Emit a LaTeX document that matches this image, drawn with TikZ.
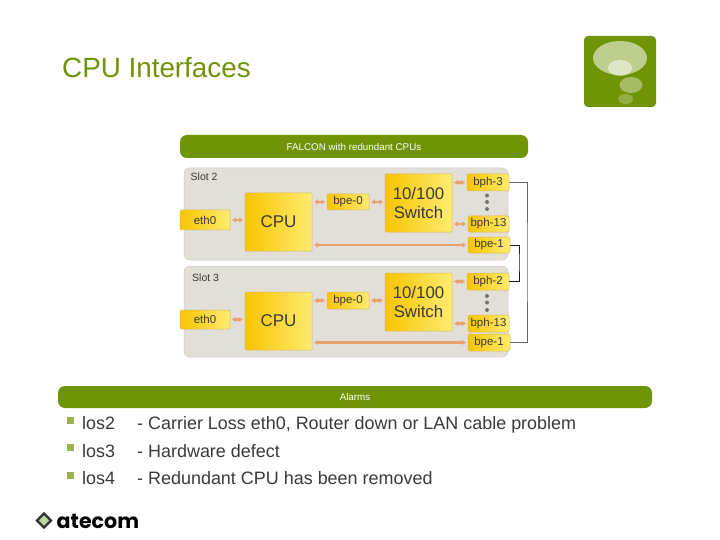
\documentclass[tikz,border=0pt]{standalone}
\usepackage{fontspec}
\setmainfont{Liberation Sans}
\newfontfamily\logofont{Poppins}
\usetikzlibrary{arrows.meta,shapes.geometric,calc}
\definecolor{oliv}{HTML}{6F9405}
\definecolor{slotgrey}{HTML}{E2DFD9}
\definecolor{slotedge}{HTML}{CFCBC4}
\definecolor{ylwdark}{HTML}{F8C400}
\definecolor{ylwlight}{HTML}{FFEC70}
\definecolor{ylwedge}{HTML}{D8B860}
\definecolor{linkc}{HTML}{E9A26E}
\definecolor{txt}{HTML}{3A3A38}
\tikzset{
  bar/.style={fill=oliv,rounded corners=7pt,inner sep=0pt,text=white,font=\fontsize{9.8}{11}\selectfont},
  slot/.style={fill=slotgrey,draw=slotedge,line width=.5pt,rounded corners=6pt,inner sep=0pt},
  chip/.style={left color=ylwdark,right color=ylwlight,draw=ylwedge,line width=.5pt,inner sep=0pt,text=txt},
  port/.style={chip,rounded corners=2pt,font=\fontsize{11.5}{13}\selectfont},
  bigchip/.style={chip,rounded corners=1pt,align=center},
  link/.style={draw=linkc,line width=2.2pt,{Latex[length=4pt,width=5.5pt]}-{Latex[length=4pt,width=5.5pt]}},
  wireout/.style={draw=black!60,line width=.8pt},
  wirein/.style={draw=black!90,line width=.9pt},
  vdot/.style={circle,fill=black!55,minimum size=4pt,inner sep=0pt},
  bodytext/.style={anchor=base west,inner sep=0pt,text=txt,font=\fontsize{17.95}{20}\selectfont},
  bullet/.style={fill=oliv!70,minimum size=7pt,inner sep=0pt},
}
\begin{document}
\begin{tikzpicture}[x=1pt,y=-1pt]
\useasboundingbox (0,0) rectangle (720,540);
\fill[white] (0,0) rectangle (720,540);

% title and corner tile
\node[anchor=base west,inner sep=0pt,text=oliv,font=\fontsize{27.8}{30}\selectfont] (title) at (62,78) {CPU Interfaces};
\node[fill=oliv,rounded corners=4pt,minimum width=72pt,minimum height=71pt,inner sep=0pt] (tile) at (620,71.5) {};
\fill[white,opacity=.55] (620,58) ellipse (27pt and 17pt);
\fill[white,opacity=.5] (620,68) ellipse (12pt and 8pt);
\fill[white,opacity=.38] (631,85) ellipse (11.5pt and 8pt);
\fill[white,opacity=.25] (625.7,99) ellipse (7.5pt and 5pt);

% header bars
\node[bar,minimum width=348pt,minimum height=23pt] (hdr) at (354,146.5) {FALCON with redundant CPUs};
\node[bar,minimum width=594pt,minimum height=22pt] (alarms) at (355,397) {Alarms};

% slots
\node[slot,minimum width=324pt,minimum height=92pt] (slotA) at (346,214) {};
\node[slot,minimum width=324pt,minimum height=91pt] (slotB) at (346,311.5) {};
\node[anchor=base west,inner sep=0pt,text=txt,font=\fontsize{10.5}{12}\selectfont] (slotAl) at (190.5,181) {Slot 2};
\node[anchor=base west,inner sep=0pt,text=txt,font=\fontsize{10.5}{12}\selectfont] (slotBl) at (192,281) {Slot 3};

% slot 2
\node[port,minimum width=50pt,minimum height=20pt] (ethA) at (205,220) {eth0};
\node[bigchip,minimum width=67pt,minimum height=58pt,font=\fontsize{17}{20}\selectfont] (cpuA) at (278.5,222) {CPU};
\node[port,minimum width=42pt,minimum height=16pt] (bpe0A) at (348,202) {bpe-0};
\node[bigchip,minimum width=67pt,minimum height=58pt,font=\fontsize{16.8}{19}\selectfont] (swA) at (418.5,203) {10/100\\Switch};
\node[port,minimum width=42pt,minimum height=17pt] (bph3A) at (488,182.5) {bph-3};
\node[port,minimum width=41pt,minimum height=16pt] (bph13A) at (488.5,224) {bph-13};
\node[port,minimum width=42pt,minimum height=16pt] (bpe1A) at (489,245) {bpe-1};
\node[vdot] (d1A) at (487,195.5) {};
\node[vdot] (d2A) at (487,202) {};
\node[vdot] (d3A) at (487,209) {};

% slot 3
\node[port,minimum width=50pt,minimum height=19pt] (ethB) at (205,319.5) {eth0};
\node[bigchip,minimum width=67pt,minimum height=58pt,font=\fontsize{17}{20}\selectfont] (cpuB) at (278.5,321) {CPU};
\node[port,minimum width=42pt,minimum height=17pt] (bpe0B) at (348,300.5) {bpe-0};
\node[bigchip,minimum width=67pt,minimum height=58pt,font=\fontsize{16.8}{19}\selectfont] (swB) at (418.5,302) {10/100\\Switch};
\node[port,minimum width=42pt,minimum height=17pt] (bph2B) at (488,281.5) {bph-2};
\node[port,minimum width=41pt,minimum height=17pt] (bph13B) at (488.5,323.5) {bph-13};
\node[port,minimum width=42pt,minimum height=17pt] (bpe1B) at (489,342.5) {bpe-1};
\node[vdot] (d1B) at (487,296) {};
\node[vdot] (d2B) at (487,302.5) {};
\node[vdot] (d3B) at (487,310) {};

% links inside the slots
\begin{scope}[shorten <=1.5pt,shorten >=1.5pt]
\draw[link] (ethA) -- (ethA -| cpuA.west);
\draw[link] (bpe0A.west -| cpuA.east) -- (bpe0A.west);
\draw[link] (bpe0A) -- (bpe0A -| swA.west);
\draw[link] (bph3A.west -| swA.east) -- (bph3A.west);
\draw[link] (bph13A.west -| swA.east) -- (bph13A.west);
\draw[link] (bpe1A.west -| cpuA.east) -- (bpe1A.west);
\draw[link] (ethB) -- (ethB -| cpuB.west);
\draw[link] (bpe0B.west -| cpuB.east) -- (bpe0B.west);
\draw[link] (bpe0B) -- (bpe0B -| swB.west);
\draw[link] (bph2B.west -| swB.east) -- (bph2B.west);
\draw[link] (bph13B.west -| swB.east) -- (bph13B.west);
\draw[link] (bpe1B.west -| cpuB.east) -- (bpe1B.west);
\end{scope}

% cross connections between the slots
\coordinate (railO) at (527,262);
\coordinate (railI) at (519,262);
\draw[wireout] (bph3A.east) -| (railO) |- (bpe1B.east);
\draw[wirein] (bpe1A.east) -| (railI) |- (bph2B.east);

% alarm list
\node[bullet] (b1) at (70,420) {};
\node[bullet] (b2) at (70,447.5) {};
\node[bullet] (b3) at (70,475) {};
\node[bodytext] (l1) at (82,429) {los2};
\node[bodytext] (l2) at (82,457) {los3};
\node[bodytext] (l3) at (82,484) {los4};
\node[bodytext] (t1) at (137,429) {- Carrier Loss eth0, Router down or LAN cable problem};
\node[bodytext] (t2) at (137,457) {- Hardware defect};
\node[bodytext] (t3) at (137,484) {- Redundant CPU has been removed};

% logo
\node[diamond,draw=black!80,line width=2.2pt,fill=oliv!40,minimum size=15pt,inner sep=0pt] (logoD) at (44,520.5) {};
\node[anchor=base west,inner sep=0pt,font=\logofont\bfseries\fontsize{20.6}{22}\selectfont,text=black] (logo) at (56.5,528) {atecom};
\end{tikzpicture}
\end{document}
